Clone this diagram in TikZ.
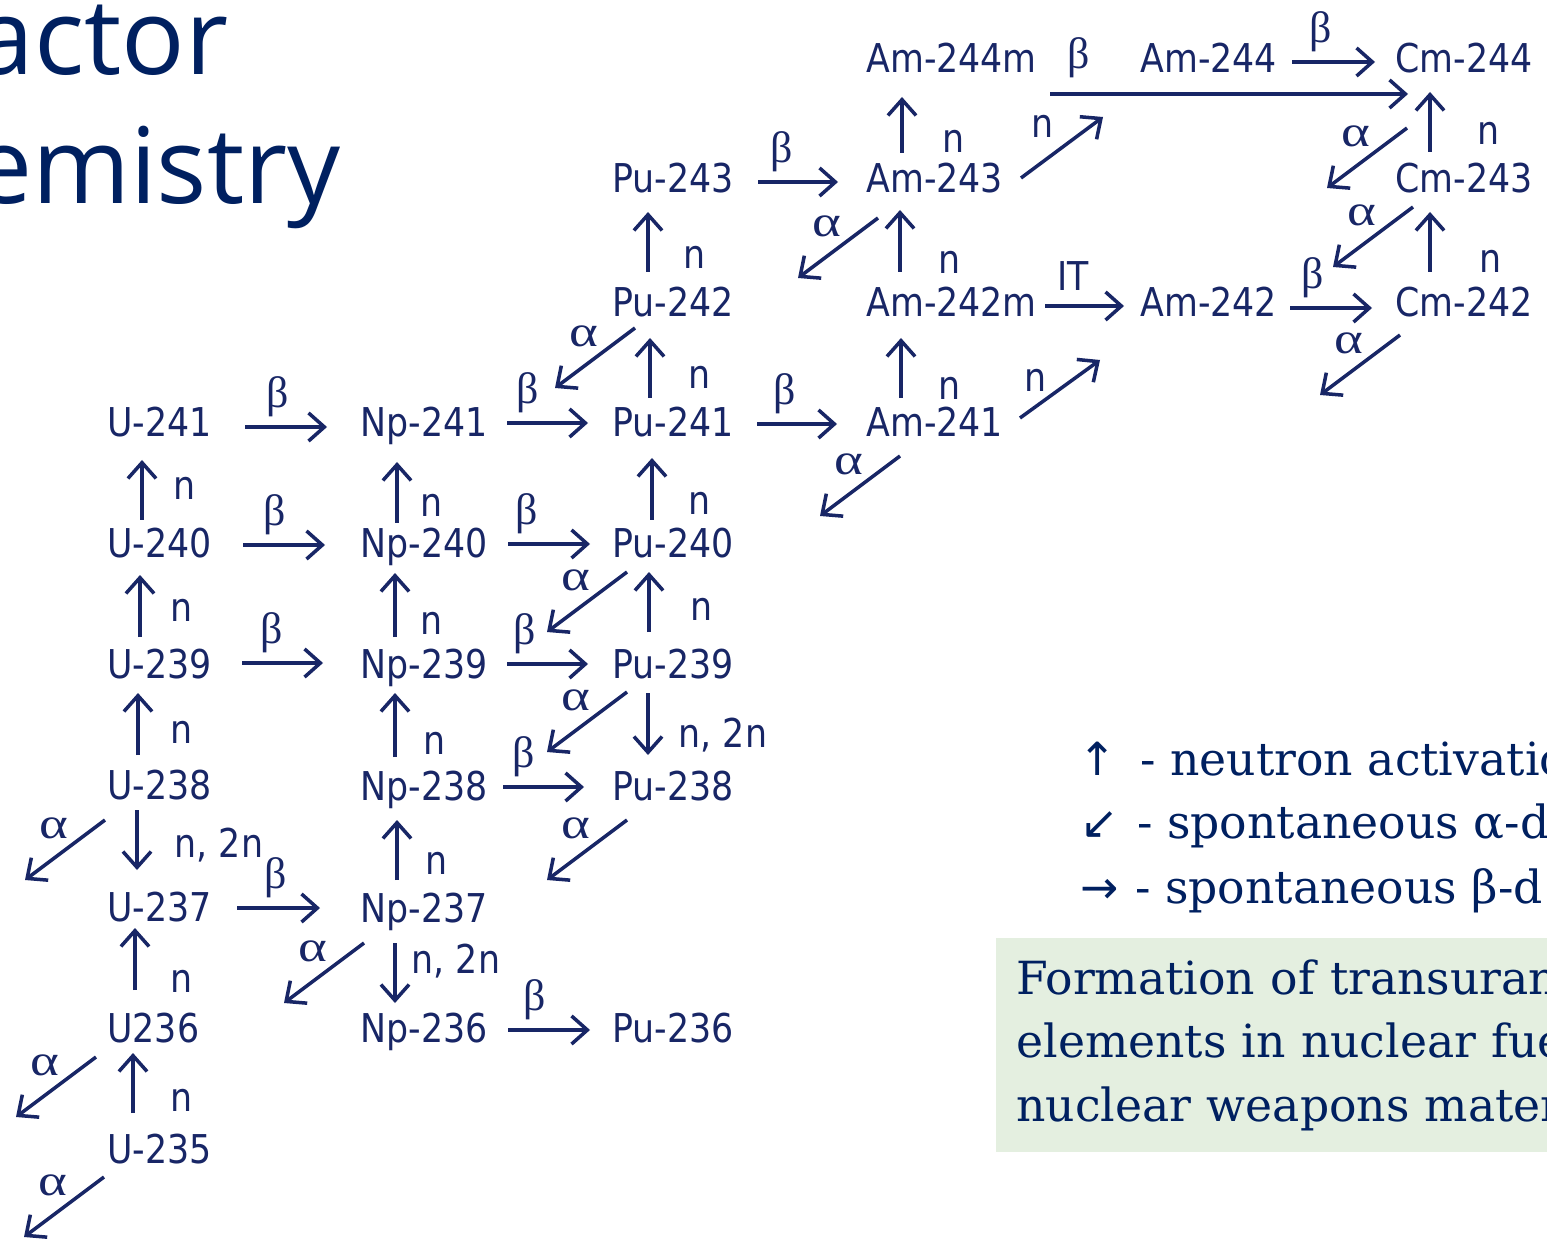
\documentclass[tikz,border=0pt]{standalone}
\usepackage{fontspec}
\usepackage{tikz}
\usetikzlibrary{arrows.meta,positioning,calc}
\definecolor{navy}{RGB}{0,32,96}
\definecolor{isoblue}{RGB}{24,38,102}
\definecolor{boxgreen}{RGB}{228,239,224}
\newfontfamily\isofont[FakeStretch=0.876]{DejaVu Sans}
\newfontfamily\titlefont{Open Sans}
\newfontfamily\legfont{DejaVu Serif}
\newfontfamily\symfont{DejaVu Sans}
\newfontfamily\betafont{Liberation Serif}
\newfontfamily\alphafont[FakeStretch=1.25]{Liberation Serif}

\begin{document}
\begin{tikzpicture}[
        x=0.02cm, y=-0.02cm,
        iso/.style={anchor=base west, inner sep=0pt, text=isoblue, font=\isofont\fontsize{22.6}{27}\selectfont},
        arr/.style={draw=isoblue, line width=2pt, -{Straight Barb[length=9pt, width=16pt]}},
        blab/.style={above=5pt, inner sep=0pt, text=isoblue, font=\betafont\fontsize{25}{30}\selectfont},
        alab/.style={pos=0.5, shift={(-11,-22)}, inner sep=0pt, text=isoblue, font=\alphafont\fontsize{25}{30}\selectfont},
        nlab/.style 2 args={pos=0.5, shift={(#1,#2)}, inner sep=0pt, text=isoblue, font=\isofont\fontsize{22.6}{27}\selectfont},
        nnlab/.style 2 args={pos=0.5, anchor=base west, shift={(#1,#2)}, inner sep=0pt, text=isoblue, font=\isofont\fontsize{22.6}{27}\selectfont},
        ttl/.style={anchor=base east, inner sep=0pt, text=navy, font=\titlefont\fontsize{60}{72}\selectfont},
        leg/.style={anchor=base west, inner sep=0pt, text=navy, font=\legfont\fontsize{26}{36}\selectfont},
        legsym/.style={anchor=base west, inner sep=0pt, text=navy, font=\symfont\fontsize{26}{36}\selectfont}
    ]
        \useasboundingbox (0,0) rectangle (1547,1239);
        \clip (0,0) rectangle (1547,1239);
        \fill[white] (0,0) rectangle (1547,1239);

        % Title
        \node[ttl] (ttl1) at (229,75) {actor};
        \node[ttl] (ttl2) at (341,204) {emistry};

        % Uranium
        \node[iso] (u241) at (107,437) {U-241};
        \node[iso] (u240) at (107,558) {U-240};
        \node[iso] (u239) at (107,678) {U-239};
        \node[iso] (u238) at (107,799) {U-238};
        \node[iso] (u237) at (107,921) {U-237};
        \node[iso] (u236) at (107,1042) {U236};
        \node[iso] (u235) at (107,1163) {U-235};

        % Neptunium
        \node[iso] (np241) at (360,437) {Np-241};
        \node[iso] (np240) at (360,558) {Np-240};
        \node[iso] (np239) at (360,678) {Np-239};
        \node[iso] (np238) at (360,800) {Np-238};
        \node[iso] (np237) at (360,922) {Np-237};
        \node[iso] (np236) at (360,1042) {Np-236};

        % Plutonium
        \node[iso] (pu243) at (612,193) {Pu-243};
        \node[iso] (pu242) at (612,317) {Pu-242};
        \node[iso] (pu241) at (612,437) {Pu-241};
        \node[iso] (pu240) at (612,558) {Pu-240};
        \node[iso] (pu239) at (612,678) {Pu-239};
        \node[iso] (pu238) at (612,800) {Pu-238};
        \node[iso] (pu236) at (612,1042) {Pu-236};

        % Americium
        \node[iso] (am244m) at (866,73) {Am-244m};
        \node[iso] (am243) at (866,193) {Am-243};
        \node[iso] (am242m) at (866,317) {Am-242m};
        \node[iso] (am241) at (866,437) {Am-241};
        \node[iso] (am244) at (1140,73) {Am-244};
        \node[iso] (am242) at (1140,317) {Am-242};

        % Curium
        \node[iso] (cm244) at (1395,73) {Cm-244};
        \node[iso] (cm243) at (1395,193) {Cm-243};
        \node[iso] (cm242) at (1395,317) {Cm-242};

        % Neutron capture
        \draw[arr] ([shift={(35,-38)}]u240.base west) -- ([shift={(35,23)}]u241.base west) node[nlab={43}{-2}]{n};
        \draw[arr] ([shift={(33,-41)}]u239.base west) -- ([shift={(33,17)}]u240.base west) node[nlab={42}{4}]{n};
        \draw[arr] ([shift={(31,-44)}]u238.base west) -- ([shift={(31,15)}]u239.base west) node[nlab={44}{8}]{n};
        \draw[arr] ([shift={(28,-52)}]u236.base west) -- ([shift={(28,7)}]u237.base west) node[nlab={47}{22}]{n};
        \draw[arr] ([shift={(26,-50)}]u235.base west) -- ([shift={(26,11)}]u236.base west) node[nlab={49}{17}]{n};
        \draw[arr] ([shift={(37,-35)}]np240.base west) -- ([shift={(37,25)}]np241.base west) node[nlab={35}{13}]{n};
        \draw[arr] ([shift={(35,-41)}]np239.base west) -- ([shift={(35,15)}]np240.base west) node[nlab={37}{18}]{n};
        \draw[arr] ([shift={(35,-43)}]np238.base west) -- ([shift={(35,15)}]np239.base west) node[nlab={40}{18}]{n};
        \draw[arr] ([shift={(37,-42)}]np237.base west) -- ([shift={(37,20)}]np238.base west) node[nlab={40}{13}]{n};
        \draw[arr] ([shift={(36,-45)}]pu242.base west) -- ([shift={(36,19)}]pu243.base west) node[nlab={47}{15}]{n};
        \draw[arr] ([shift={(38,-39)}]pu241.base west) -- ([shift={(38,21)}]pu242.base west) node[nlab={50}{9}]{n};
        \draw[arr] ([shift={(40,-38)}]pu240.base west) -- ([shift={(40,21)}]pu241.base west) node[nlab={48}{14}]{n};
        \draw[arr] ([shift={(37,-46)}]pu239.base west) -- ([shift={(37,14)}]pu240.base west) node[nlab={53}{7}]{n};
        \draw[arr] ([shift={(36,-40)}]am243.base west) -- ([shift={(36,24)}]am244m.base west) node[nlab={52}{16}]{n};
        \draw[arr] ([shift={(34,-45)}]am242m.base west) -- ([shift={(34,17)}]am243.base west) node[nlab={50}{21}]{n};
        \draw[arr] ([shift={(35,-39)}]am241.base west) -- ([shift={(35,21)}]am242m.base west) node[nlab={49}{20}]{n};
        \draw[arr] ([shift={(35,-41)}]cm243.base west) -- ([shift={(35,19)}]cm244.base west) node[nlab={58}{11}]{n};
        \draw[arr] ([shift={(35,-45)}]cm242.base west) -- ([shift={(35,19)}]cm243.base west) node[nlab={60}{19}]{n};
        \draw[arr] ([shift={(155,-15)}]am243.base west) -- +(82,-61) node[nlab={-19}{-21}]{n};
        \draw[arr] ([shift={(154,-19)}]am241.base west) -- +(80,-58) node[nlab={-24}{-9}]{n};

        % (n, 2n)
        \draw[arr] ([shift={(30,11)}]u238.base west) -- ([shift={(30,-51)}]u237.base west) node[nnlab={36}{17}]{n, 2n};
        \draw[arr] ([shift={(35,21)}]np237.base west) -- ([shift={(35,-39)}]np236.base west) node[nnlab={15}{0}]{n, 2n};
        \draw[arr] ([shift={(36,15)}]pu239.base west) -- ([shift={(36,-45)}]pu238.base west) node[nnlab={29}{23}]{n, 2n};

        % Beta decay
        \draw[arr] ([shift={(138,-10)}]u241.base west) -- ([shift={(-33,-10)}]np241.base west) node[blab, pos=.4]{β};
        \draw[arr] ([shift={(136,-13)}]u240.base west) -- ([shift={(-35,-13)}]np240.base west) node[blab, pos=.39]{β};
        \draw[arr] ([shift={(135,-15)}]u239.base west) -- ([shift={(-37,-15)}]np239.base west) node[blab, pos=.37]{β};
        \draw[arr] ([shift={(130,-13)}]u237.base west) -- ([shift={(-40,-14)}]np237.base west) node[blab, pos=.46]{β};
        \draw[arr] ([shift={(147,-14)}]np241.base west) -- ([shift={(-24,-14)}]pu241.base west) node[blab, pos=.25]{β};
        \draw[arr] ([shift={(148,-14)}]np240.base west) -- ([shift={(-22,-14)}]pu240.base west) node[blab, pos=.23]{β};
        \draw[arr] ([shift={(147,-14)}]np239.base west) -- ([shift={(-24,-14)}]pu239.base west) node[blab, pos=.22]{β};
        \draw[arr] ([shift={(143,-13)}]np238.base west) -- ([shift={(-28,-13)}]pu238.base west) node[blab, pos=.26]{β};
        \draw[arr] ([shift={(148,-12)}]np236.base west) -- ([shift={(-22,-12)}]pu236.base west) node[blab, pos=.33]{β};
        \draw[arr] ([shift={(145,-13)}]pu241.base west) -- ([shift={(-29,-13)}]am241.base west) node[blab, pos=.35]{β};
        \draw[arr] ([shift={(146,-11)}]pu243.base west) -- ([shift={(-28,-11)}]am243.base west) node[blab, pos=.3]{β};
        \draw[arr] ([shift={(179,-11)}]am242m.base west) -- ([shift={(-16,-11)}]am242.base west) node[nnlab={-17}{-15}, pos=.35]{IT};
        \draw[arr] ([shift={(150,-9)}]am242.base west) -- ([shift={(-23,-9)}]cm242.base west) node[blab, pos=.28]{β};
        \draw[arr] ([shift={(152,-11)}]am244.base west) -- ([shift={(-20,-11)}]cm244.base west) node[blab, pos=.34]{β};
        \draw[arr] ([shift={(184,21)}]am244m.base west) -- ([shift={(13,21)}]cm244.base west) node[blab, pos=.08, above=8pt]{β};

        % Alpha decay
        \draw[arr] ([shift={(23,11)}]pu242.base west) -- +(-80,60) node[alab]{α};
        \draw[arr] ([shift={(12,25)}]am243.base west) -- +(-80,60) node[alab]{α};
        \draw[arr] ([shift={(12,55)}]cm244.base west) -- +(-80,60) node[alab]{α};
        \draw[arr] ([shift={(18,14)}]cm243.base west) -- +(-80,60) node[alab]{α};
        \draw[arr] ([shift={(5,18)}]cm242.base west) -- +(-80,60) node[alab]{α};
        \draw[arr] ([shift={(34,19)}]am241.base west) -- +(-80,60) node[alab]{α};
        \draw[arr] ([shift={(15,14)}]pu240.base west) -- +(-80,60) node[alab]{α};
        \draw[arr] ([shift={(15,14)}]pu239.base west) -- +(-80,60) node[alab]{α};
        \draw[arr] ([shift={(15,20)}]pu238.base west) -- +(-80,60) node[alab]{α};
        \draw[arr] ([shift={(-2,21)}]u238.base west) -- +(-80,60) node[alab]{α};
        \draw[arr] ([shift={(4,21)}]np237.base west) -- +(-80,60) node[alab]{α};
        \draw[arr] ([shift={(-11,15)}]u236.base west) -- +(-80,60) node[alab]{α};
        \draw[arr] ([shift={(-3,14)}]u235.base west) -- +(-80,60) node[alab]{α};

        % Legend
        \node[legsym] (keyn) at (1078,775) {↑};
        \node[leg] (keyntxt) at (1140,775) {- neutron activatio};
        \node[legsym] (keya) at (1080,838) {↙};
        \node[leg] (keyatxt) at (1137,838) {- spontaneous α-d};
        \node[legsym] (keyb) at (1080,903) {→};
        \node[leg] (keybtxt) at (1135,903) {- spontaneous β-d};

        % Caption box
        \node[anchor=north west, fill=boxgreen, inner xsep=0.4cm, inner ysep=0pt, minimum height=4.28cm, text width=14cm, align=left, text=navy, font=\legfont\fontsize{26}{36}\selectfont] (capbox) at (996,938) {Formation of transuran\\elements in nuclear fue\\nuclear weapons mater};
    \end{tikzpicture}
\end{document}
